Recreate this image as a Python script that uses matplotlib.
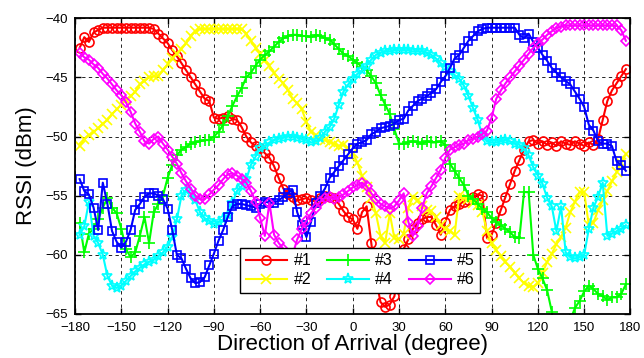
# Grafica RSSI vs direccion de llegada (6 antenas)

import numpy as np
import matplotlib
matplotlib.use("Agg")
import matplotlib.pyplot as plt

plt.rcParams['font.family'] = ['Liberation Sans', 'DejaVu Sans']

# Angulos (grados), paso de 3
angulos = np.arange(-177, 178, 3)

# RSSI de cada patron (dBm), 10 valores por fila
rssi_1 = [
    -42.5, -41.6, -42.0, -41.2, -41.0, -40.8, -40.8, -40.8, -40.8, -40.8,
    -40.8, -40.8, -40.8, -40.8, -40.8, -40.8, -40.9, -41.3, -41.7, -42.1,
    -42.7, -43.2, -43.8, -44.4, -45.0, -45.6, -46.2, -46.8, -47.0, -48.4,
    -48.5, -48.4, -48.3, -48.5, -48.6, -49.2, -50.0, -50.5, -50.8, -51.0,
    -51.4, -51.8, -52.5, -53.5, -54.4, -54.9, -55.1, -55.4, -55.3, -55.2,
    -55.4, -55.5, -55.2, -55.0, -55.1, -55.2, -55.7, -56.3, -56.8, -57.0,
    -57.8, -56.4, -55.9, -59.0, -62.0, -64.0, -64.4, -64.2, -63.5, -61.0,
    -59.5, -58.7, -57.8, -57.3, -57.0, -56.8, -56.8, -57.5, -58.3, -57.2,
    -56.2, -55.9, -55.7, -55.5, -55.4, -55.1, -54.9, -55.0, -58.6, -58.3,
    -57.3, -56.2, -55.1, -54.0, -52.9, -52.0, -51.1, -50.4, -50.3, -50.6,
    -50.4, -50.7, -50.5, -50.8, -50.4, -50.6, -50.7, -50.4, -50.6, -50.8,
    -50.5, -50.7, -50.2, -48.6, -47.0, -46.1, -45.5, -44.9, -44.3]

rssi_2 = [
    -50.8, -50.2, -49.9, -49.6, -49.3, -48.9, -48.6, -48.1, -47.7, -47.3,
    -46.9, -46.6, -46.2, -45.6, -45.3, -45.0, -44.9, -44.9, -44.4, -43.9,
    -43.4, -43.0, -42.6, -42.1, -41.5, -41.1, -40.9, -40.9, -40.9, -40.9,
    -40.9, -40.9, -40.9, -40.9, -40.9, -40.9, -41.3, -41.9, -42.5, -43.0,
    -43.5, -44.0, -44.6, -45.1, -45.5, -46.1, -46.8, -47.2, -47.7, -48.8,
    -49.6, -49.9, -50.2, -50.3, -50.5, -50.6, -50.8, -50.7, -51.0, -51.4,
    -52.2, -53.3, -54.3, -55.2, -56.5, -58.4, -59.0, -56.5, -58.6, -58.7,
    -58.2, -56.0, -55.1, -55.4, -55.9, -56.2, -56.3, -56.8, -57.5, -57.8,
    -58.0, -58.3, -55.0, -55.2, -55.3, -55.6, -55.8, -56.4, -58.0, -59.0,
    -59.6, -60.1, -60.6, -61.0, -61.5, -62.0, -62.4, -62.6, -62.7, -62.4,
    -61.5, -60.6, -59.9, -59.1, -58.5, -57.7, -56.4, -55.5, -54.7, -54.7,
    -57.5, -57.3, -56.2, -55.4, -54.6, -53.8, -53.0, -52.2, -51.5]

rssi_3 = [
    -57.3, -59.8, -58.2, -57.8, -57.0, -56.0, -55.2, -56.0, -56.5, -57.8,
    -59.5, -60.2, -59.8, -58.4, -56.8, -59.0, -56.4, -55.7, -55.0, -53.5,
    -52.4, -51.6, -51.1, -50.9, -50.6, -50.5, -50.4, -50.3, -50.3, -50.0,
    -49.6, -49.0, -48.3, -47.4, -46.6, -45.9, -45.0, -44.6, -44.0, -43.5,
    -43.1, -42.8, -42.4, -42.0, -41.7, -41.5, -41.4, -41.4, -41.5, -41.5,
    -41.6, -41.4, -41.5, -41.7, -41.8, -42.2, -42.6, -43.0, -43.2, -43.5,
    -43.8, -44.1, -44.4, -44.9, -45.5, -46.5, -47.3, -48.1, -49.4, -50.6,
    -50.6, -50.5, -50.4, -50.5, -50.6, -50.4, -50.5, -50.5, -50.4, -50.7,
    -52.3, -52.9, -53.5, -54.1, -55.0, -55.3, -55.7, -56.1, -56.4, -56.9,
    -57.2, -57.5, -57.8, -58.1, -58.5, -58.6, -54.7, -54.7, -60.0, -61.2,
    -62.0, -63.0, -64.8, -66.5, -67.0, -66.5, -65.5, -64.5, -63.9, -63.1,
    -62.6, -62.9, -63.3, -63.5, -63.8, -63.6, -63.6, -63.3, -62.5]

rssi_4 = [
    -58.3, -57.6, -55.5, -58.4, -59.0, -60.0, -61.8, -62.6, -62.8, -62.6,
    -62.2, -61.8, -61.4, -61.1, -60.8, -60.6, -60.4, -60.1, -59.8, -59.3,
    -58.5, -57.0, -55.0, -54.5, -54.8, -55.4, -56.4, -56.9, -57.1, -57.4,
    -57.2, -57.0, -56.6, -55.6, -54.6, -54.2, -53.6, -52.4, -51.7, -51.0,
    -50.8, -50.5, -50.3, -50.2, -50.1, -50.0, -50.0, -50.1, -50.2, -50.3,
    -50.5, -50.4, -50.1, -49.6, -49.2, -48.5, -47.3, -46.2, -45.6, -45.1,
    -44.7, -44.4, -44.0, -43.5, -43.1, -42.9, -42.8, -42.8, -42.7, -42.7,
    -42.7, -42.7, -42.8, -42.8, -42.8, -42.9, -43.1, -43.4, -43.8, -44.1,
    -44.5, -44.8, -45.1, -45.7, -46.6, -47.6, -48.6, -49.9, -50.4, -50.5,
    -50.5, -50.4, -50.3, -50.4, -50.6, -50.7, -51.0, -51.6, -52.6, -53.3,
    -54.0, -55.2, -55.9, -58.0, -55.9, -59.8, -60.2, -60.3, -60.2, -60.0,
    -57.8, -56.0, -55.1, -53.9, -58.4, -58.2, -58.0, -57.8, -57.5]

rssi_5 = [
    -53.6, -54.6, -54.9, -56.0, -57.9, -53.9, -55.7, -58.0, -58.9, -59.4,
    -58.9, -57.9, -56.2, -55.7, -55.1, -54.8, -54.8, -55.0, -55.3, -56.1,
    -57.9, -60.0, -60.3, -61.2, -62.0, -62.4, -62.3, -61.9, -60.9, -59.9,
    -58.8, -57.9, -56.8, -55.9, -55.7, -55.7, -55.8, -55.9, -56.0, -55.7,
    -55.5, -55.6, -55.6, -55.4, -55.1, -54.8, -54.5, -56.4, -57.5, -58.5,
    -57.2, -55.6, -55.0, -54.4, -53.5, -53.0, -52.5, -52.0, -51.5, -51.0,
    -50.6, -50.5, -50.3, -49.8, -49.6, -49.3, -49.2, -49.1, -48.9, -48.6,
    -48.5, -47.8, -47.4, -47.0, -46.8, -46.6, -46.3, -46.0, -45.4, -44.9,
    -44.2, -43.4, -43.1, -42.5, -41.9, -41.5, -41.1, -40.9, -40.8, -40.8,
    -40.8, -40.8, -40.8, -40.8, -40.8, -41.4, -41.7, -41.3, -42.0, -42.5,
    -43.1, -43.6, -44.2, -44.6, -45.0, -45.3, -45.6, -46.2, -46.8, -47.5,
    -49.0, -49.5, -50.4, -50.6, -50.6, -50.8, -52.1, -52.4, -52.9]

rssi_6 = [
    -42.9, -43.3, -43.5, -43.9, -44.2, -44.7, -45.1, -45.6, -46.1, -46.5,
    -47.1, -47.9, -48.9, -49.6, -50.4, -50.6, -50.2, -50.0, -50.6, -51.1,
    -51.7, -52.3, -53.1, -53.8, -54.4, -55.0, -55.3, -55.3, -54.9, -54.5,
    -54.1, -53.6, -53.2, -53.1, -53.3, -53.6, -53.9, -54.6, -55.5, -56.9,
    -58.4, -55.6, -58.3, -59.0, -59.5, -60.3, -60.0, -58.7, -57.8, -57.1,
    -56.5, -56.0, -55.5, -55.2, -55.1, -55.3, -55.1, -54.9, -54.6, -54.3,
    -54.1, -53.9, -54.2, -54.8, -55.3, -55.7, -55.9, -56.1, -55.9, -55.4,
    -54.8, -57.2, -58.4, -57.6, -56.0, -54.8, -54.2, -53.5, -52.8, -51.8,
    -51.1, -50.9, -50.7, -50.6, -50.3, -50.2, -50.0, -49.8, -49.5, -48.4,
    -46.8, -46.1, -45.5, -45.0, -44.5, -44.0, -43.5, -43.0, -42.5, -42.1,
    -41.8, -41.4, -41.1, -40.8, -40.7, -40.6, -40.6, -40.6, -40.6, -40.6,
    -40.6, -40.6, -40.6, -40.6, -40.6, -40.6, -40.6, -41.0, -41.9]

etiquetas = ['#1', '#2', '#3', '#4', '#5', '#6']
colores = ['#ff0000', '#ffff00', '#00ff00', '#00ffff', '#0000ff', '#ff00ff']
marcadores = ['o', 'x', '+', '*', 's', 'D']
tamanos = [6.5, 6.5, 8.5, 8, 5.5, 5.5]

x_ticks = list(range(-180, 181, 30))
y_ticks = list(range(-65, -39, 5))

fig = plt.figure(figsize=(6.44, 3.58), dpi=100)
ax = fig.add_axes([0.1165, 0.123, 0.8625, 0.826])

series = [rssi_1, rssi_2, rssi_3, rssi_4, rssi_5, rssi_6]
for datos, etq, col, mk, ms in zip(series, etiquetas, colores, marcadores, tamanos):
    ax.plot(angulos, datos, color=col, marker=mk, markersize=ms,
            markerfacecolor='none', markeredgewidth=1.2, linewidth=1.5,
            label=etq)

ax.set_xlim(-180, 180)
ax.set_ylim(-65, -40)
ax.set_xticks(x_ticks)
ax.set_yticks(y_ticks)
ax.tick_params(direction='in', top=True, right=True, labelsize=9.5,
               length=4, width=1)
ax.tick_params(axis='x', pad=6)
ax.tick_params(axis='y', pad=5)
for sp in ax.spines.values():
    sp.set_linewidth(1.3)

ax.grid(True, color='black', linestyle=(0, (4, 4)), linewidth=0.6)
ax.set_axisbelow(True)

ax.set_xlabel('Direction of Arrival (degree)', fontsize=16, labelpad=0)
ax.set_ylabel('RSSI (dBm)', fontsize=16, labelpad=6)

# Leyenda en tres columnas
leg = ax.legend(ncol=3, loc='lower left', bbox_to_anchor=(0.3727, 0.1816),
                bbox_transform=fig.transFigure, borderaxespad=0,
                fontsize=11.5, handlelength=2.6, columnspacing=1.0,
                handletextpad=0.4, labelspacing=0.25, borderpad=0.35,
                fancybox=False, framealpha=1, edgecolor='black')
leg.get_frame().set_linewidth(1.0)

fig.savefig('out.png', dpi=100)
